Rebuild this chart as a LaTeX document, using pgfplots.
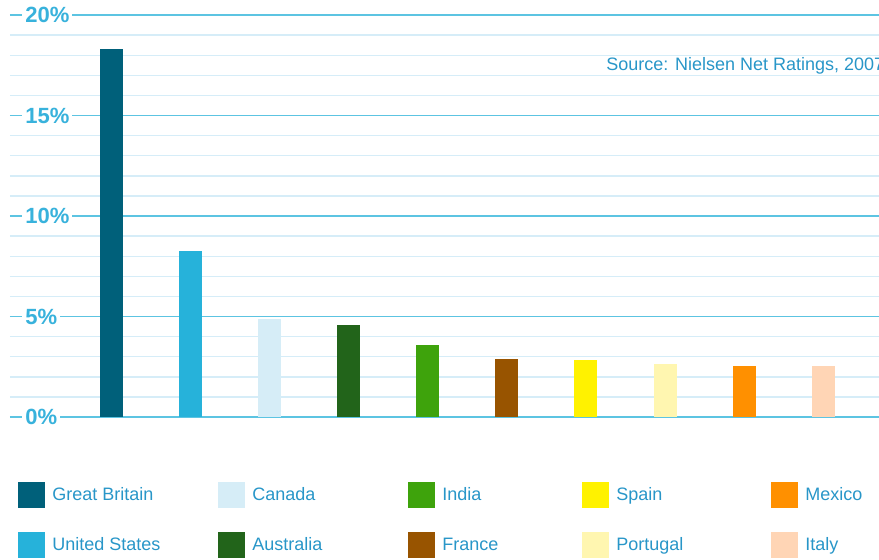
\documentclass[border=0pt]{standalone}
\usepackage{pgfplots}
\pgfplotsset{compat=1.18}
\usepackage{fontspec}
\setmainfont{Liberation Sans}
\definecolor{cGB}{RGB}{0,96,122}
\definecolor{cUS}{RGB}{38,178,218}
\definecolor{cCA}{RGB}{214,237,247}
\definecolor{cAU}{RGB}{34,100,26}
\definecolor{cIN}{RGB}{62,163,12}
\definecolor{cFR}{RGB}{152,84,0}
\definecolor{cES}{RGB}{255,242,0}
\definecolor{cPT}{RGB}{255,246,176}
\definecolor{cMX}{RGB}{255,144,0}
\definecolor{cIT}{RGB}{255,213,181}
\definecolor{txt}{RGB}{40,150,200}
\definecolor{tickc}{RGB}{56,178,220}
\definecolor{majorc}{RGB}{92,196,226}
\definecolor{minorc}{RGB}{214,237,248}
\begin{document}
\begin{tikzpicture}
\useasboundingbox (-5pt,-71pt) rectangle (434.5pt,208.5pt);
\clip (-5pt,-71pt) rectangle (434.5pt,208.5pt);
\begin{axis}[
  at={(0,0)}, anchor=south west,
  scale only axis, width=434.5pt, height=201pt,
  xmin=-1.291, xmax=9.709, ymin=0, ymax=20,
  axis line style={draw=none},
  xtick=\empty,
  ytick={0,5,10,15,20},
  yticklabels={0\%,5\%,10\%,15\%,20\%},
  minor y tick num=4,
  major tick length=0pt, minor tick length=0pt,
  ymajorgrids, yminorgrids,
  major grid style={draw=majorc, line width=0.8pt},
  minor grid style={draw=minorc, line width=0.7pt},
  yticklabel style={anchor=west, xshift=6pt, fill=white, inner xsep=1.5pt, inner ysep=0.5pt, text=tickc, font=\fontsize{11}{11}\selectfont\bfseries},
  bx/.style={ybar, bar width=11.5pt, bar shift=0pt, draw=none, forget plot, fill=#1},
  clip=false,
  legend columns=5,
  legend cell align=left,
  legend style={draw=none, fill=none, at={(axis description cs:0,0)}, anchor=north west, xshift=4pt, yshift=-32.5pt, inner sep=0pt, column sep=0pt, row sep=12pt, font=\fontsize{9}{10}\selectfont, text=txt, nodes={inner xsep=0pt, inner ysep=0pt}},
  legend image code/.code={\fill[#1] (0pt,-6.5pt) rectangle (13.5pt,6.5pt); \path (17pt,0pt);},
]
\addlegendimage{fill=cGB, draw=none} \addlegendentry{\makebox[83pt][l]{Great Britain}}
\addlegendimage{fill=cCA, draw=none} \addlegendentry{\makebox[78pt][l]{Canada}}
\addlegendimage{fill=cIN, draw=none} \addlegendentry{\makebox[70pt][l]{India}}
\addlegendimage{fill=cES, draw=none} \addlegendentry{\makebox[77.5pt][l]{Spain}}
\addlegendimage{fill=cMX, draw=none} \addlegendentry{Mexico}
\addlegendimage{fill=cUS, draw=none} \addlegendentry{\makebox[83pt][l]{United States}}
\addlegendimage{fill=cAU, draw=none} \addlegendentry{\makebox[78pt][l]{Australia}}
\addlegendimage{fill=cFR, draw=none} \addlegendentry{\makebox[70pt][l]{France}}
\addlegendimage{fill=cPT, draw=none} \addlegendentry{\makebox[77.5pt][l]{Portugal}}
\addlegendimage{fill=cIT, draw=none} \addlegendentry{Italy}
\addplot[bx=cGB] coordinates {(0,18.3)};
\addplot[bx=cUS] coordinates {(1,8.28)};
\addplot[bx=cCA] coordinates {(2,4.89)};
\addplot[bx=cAU] coordinates {(3,4.56)};
\addplot[bx=cIN] coordinates {(4,3.6)};
\addplot[bx=cFR] coordinates {(5,2.89)};
\addplot[bx=cES] coordinates {(6,2.82)};
\addplot[bx=cPT] coordinates {(7,2.62)};
\addplot[bx=cMX] coordinates {(8,2.55)};
\addplot[bx=cIT] coordinates {(9,2.54)};
\node[anchor=west, inner sep=0pt, text=txt, font=\fontsize{9}{10}\selectfont] at (axis cs:6.253,17.46) {Source: Nielsen Net Ratings, 2007};
\end{axis}
\end{tikzpicture}
\end{document}
